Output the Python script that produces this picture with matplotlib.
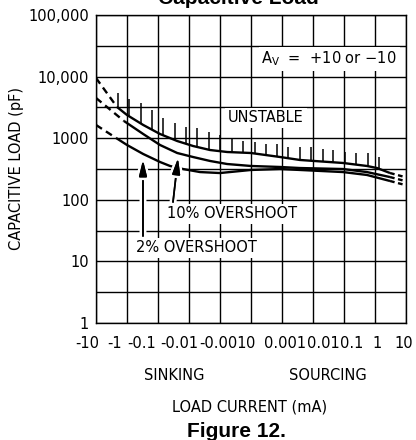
import matplotlib
matplotlib.use("Agg")
import matplotlib.pyplot as plt
import matplotlib.patheffects as pe
from matplotlib.ticker import NullFormatter, NullLocator
from matplotlib.transforms import ScaledTranslation
import numpy as np

plt.rcParams["font.family"] = "DejaVu Sans"
plt.rcParams["font.size"] = 10.5

# load current in mA (negative = sinking), capacitive load in pF
unstable_i = [-2.1, -1.0, -0.3, -0.086, -0.024, -0.0074, -0.0021, -0.00077, 0.0,
              0.00094, 0.0038, 0.093, 0.55, 1.16, 3.05]
unstable_c = [3210, 2380, 1640, 1170, 900, 747, 643, 597, 575, 495, 443, 396, 354, 328, 272]
os10_i = [-1.25, -0.3, -0.086, -0.024, -0.0074, -0.0021, -0.00077, 0.0, 0.00094,
          0.0038, 0.093, 0.55, 3.05]
os10_c = [1900, 1170, 776, 575, 495, 427, 381, 354, 341, 328, 316, 282, 234]
os2_i = [-2.26, -1.0, -0.3, -0.086, -0.041, -0.0156, -0.0044, -0.001, 0.0, 0.00094,
         0.0038, 0.093, 0.55, 3.05]
os2_c = [1010, 776, 554, 411, 354, 316, 282, 272, 305, 316, 305, 282, 253, 202]

# dashed ends (extrapolated parts)
unstable_lo_i, unstable_lo_c = [-10, -2.1], [9500, 3210]
os10_lo_i, os10_lo_c = [-10, -1.25], [4500, 1900]
os2_lo_i, os2_lo_c = [-10, -2.26], [1640, 1010]
unstable_hi_i, unstable_hi_c = [3.05, 9.3], [272, 234]
os10_hi_i, os10_hi_c = [3.05, 9.3], [234, 202]
os2_hi_i, os2_hi_c = [3.05, 9.3], [202, 174]

# hatch marks on the unstable side
hatch_i = [-1.95, -0.86, -0.353, -0.156, -0.069, -0.0283, -0.0125, -0.0055, -0.00226,
           -0.001, -0.00061, -0.00026, 0.00013, 0.00048, 0.00084, 0.00156, 0.0038,
           0.0086, 0.021, 0.044, 0.108, 0.244, 0.59, 1.35]
hatch_top = [5420, 4330, 3730, 2870, 2130, 1770, 1520, 1470, 1260, 1130, 970, 900,
             870, 805, 805, 720, 720, 720, 668, 643, 597, 575, 575, 495]

x_ticks = [-10, -1, -0.1, -0.01, -0.001, 0, 0.001, 0.01, 0.1, 1, 10]
x_labels = ["-10", "-1", "-0.1", "-0.01", "-0.001", "0",
            "0.001", "0.01", "0.1", "1", "10"]
x_label_dx = [-9, -12, -16, -10, 3, 0, 3, 10, 8, 2, -2]  # px nudges, as in the original
y_ticks = [1, 10, 100, 1000, 10000, 100000]
y_labels = ["1", "10", "100", "1000", "10,000", "100,000"]

fig = plt.figure(figsize=(4.16, 4.40), dpi=100)
ax = fig.add_axes([96 / 416, 1 - 323 / 440, 310 / 416, 308 / 440])

ax.set_xscale("symlog", linthresh=0.001, linscale=0.9, base=10)
ax.set_yscale("log")
ax.set_xlim(-10, 10)
ax.set_ylim(1, 1e5)

ax.set_xticks(x_ticks, x_labels)
ax.xaxis.set_minor_locator(NullLocator())
ax.set_yticks(y_ticks, y_labels)
ax.set_yticks([10 ** (k + 0.5) for k in range(5)], minor=True)
ax.yaxis.set_minor_formatter(NullFormatter())
ax.tick_params(which="both", length=0)
ax.tick_params(axis="x", pad=9)
ax.tick_params(axis="y", pad=5)
ax.grid(True, which="both", color="black", lw=1.0)
for s in ax.spines.values():
    s.set_linewidth(1.0)

for lab, dx in zip(ax.get_xticklabels(), x_label_dx):
    lab.set_transform(lab.get_transform() + ScaledTranslation(dx / 100, 0, fig.dpi_scale_trans))

lw = 1.7
for xi, ci in [(unstable_i, unstable_c), (os10_i, os10_c), (os2_i, os2_c)]:
    ax.plot(xi, ci, color="black", lw=lw, solid_capstyle="butt")
for xi, ci in [(unstable_lo_i, unstable_lo_c), (os10_lo_i, os10_lo_c), (os2_lo_i, os2_lo_c)]:
    ax.plot(xi, ci, color="black", lw=lw, ls=(0, (3, 2)))
for xi, ci in [(unstable_hi_i, unstable_hi_c), (os10_hi_i, os10_hi_c), (os2_hi_i, os2_hi_c)]:
    ax.plot(xi, ci, color="black", lw=lw, ls=(0, (2, 1.5)))

tr = ax.xaxis.get_transform()
hb = 10 ** np.interp(tr.transform(np.array(hatch_i, float)),
                     tr.transform(np.array(unstable_i, float)), np.log10(unstable_c))
ax.vlines(hatch_i, hb, hatch_top, color="black", lw=1.1)

box = dict(facecolor="white", edgecolor="none", pad=2)
ax.text(0.752, 0.857, "A$_\\mathregular{V}$  =  +10 or \u221210",
        transform=ax.transAxes, ha="center", va="center", bbox=box)
ax.text(0.548, 0.666, "UNSTABLE", transform=ax.transAxes, ha="center", va="center", bbox=box)
ax.text(0.439, 0.354, "10% OVERSHOOT", transform=ax.transAxes, ha="center", va="center", bbox=box)
ax.text(0.323, 0.244, "2% OVERSHOOT", transform=ax.transAxes, ha="center", va="center", bbox=box)

arrow = dict(arrowstyle="-|>,head_length=0.9,head_width=0.22", color="black", lw=1.2,
             shrinkA=0, shrinkB=0,
             path_effects=[pe.withStroke(linewidth=5, foreground="white"), pe.Normal()])
ax.annotate("", xy=(-0.305, 443), xytext=(-0.305, 25.8), arrowprops=arrow)
ax.annotate("", xy=(-0.0226, 477), xytext=(-0.0328, 92), arrowprops=arrow)

fig.text(17 / 416, 1 - 168 / 440, "CAPACITIVE LOAD (pF)", rotation=90, ha="center", va="center")
fig.text(174 / 416, 1 - 376 / 440, "SINKING", ha="center", va="center")
fig.text(328 / 416, 1 - 376 / 440, "SOURCING", ha="center", va="center")
fig.text(250 / 416, 1 - 407 / 440, "LOAD CURRENT (mA)", ha="center", va="center")
fig.text(238 / 416, 1 - 4 / 440, "Capacitive Load", ha="center", va="baseline",
         family="Liberation Sans", weight="bold", size=15)
fig.text(236 / 416, 1 - 437 / 440, "Figure 12.", ha="center", va="baseline",
         family="Liberation Sans", weight="bold", size=15)

fig.savefig("out.png", dpi=100)
